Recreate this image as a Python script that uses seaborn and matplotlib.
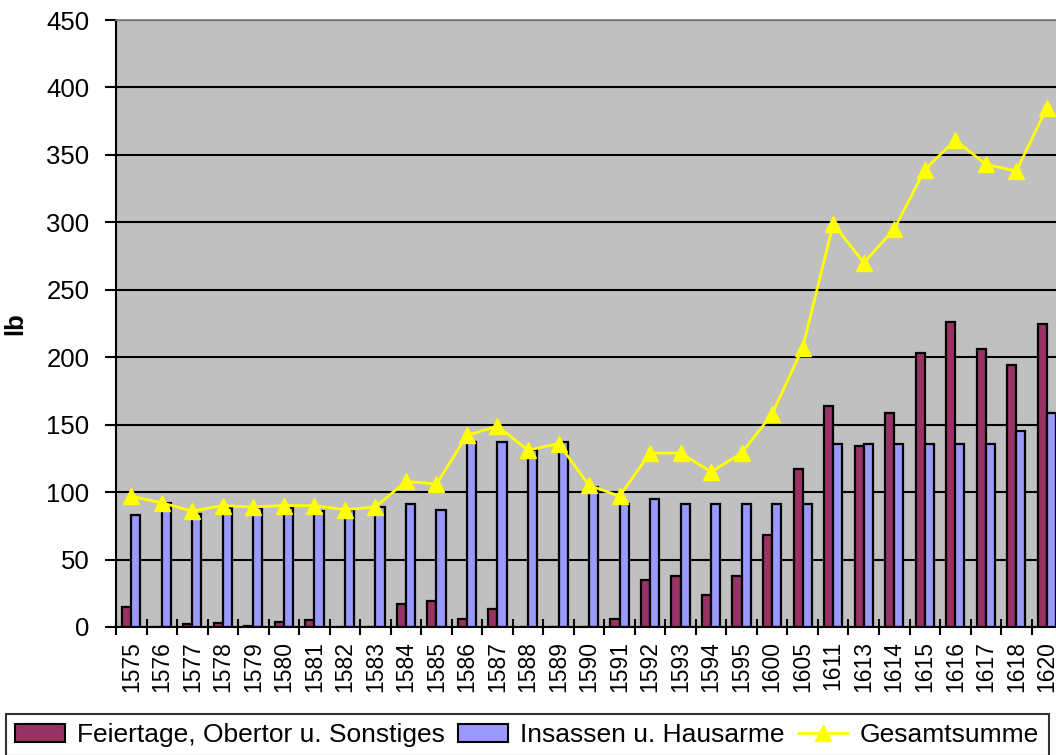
import matplotlib
matplotlib.use("Agg")
import matplotlib.pyplot as plt
import matplotlib.patches as mpatches
import matplotlib.lines as mlines
import numpy as np
import pandas as pd
import seaborn as sns

sns.set_theme(style="white")
plt.rcParams["font.family"] = ["Liberation Sans", "DejaVu Sans"]
plt.rcParams["text.color"] = "black"
plt.rcParams["axes.labelcolor"] = "black"
plt.rcParams["xtick.color"] = "black"
plt.rcParams["ytick.color"] = "black"

years = ["1575", "1576", "1577", "1578", "1579", "1580", "1581", "1582", "1583",
         "1584", "1585", "1586", "1587", "1588", "1589", "1590", "1591", "1592",
         "1593", "1594", "1595", "1600", "1605", "1611", "1613", "1614", "1615",
         "1616", "1617", "1618", "1620"]
feiertage = [15, 0, 2, 3, 1, 4, 5, 0, 0, 17, 19, 6, 13, 0, 0, 0, 6, 35, 38, 24,
             38, 68, 117, 164, 134, 159, 203, 226, 206, 194, 225]
insassen = [83, 92, 84, 88, 88, 88, 86, 87, 89, 91, 87, 137, 137, 131, 137, 104,
            91, 95, 91, 91, 91, 91, 91, 136, 136, 136, 136, 136, 136, 145, 159]
gesamt = [97, 92, 86, 90, 89, 90, 90, 87, 89, 108, 106, 142, 149, 131, 136, 105,
          97, 129, 129, 115, 129, 158, 207, 299, 270, 295, 339, 361, 343, 338, 385]

LBL_F = "Feiertage, Obertor u. Sonstiges"
LBL_I = "Insassen u. Hausarme"
LBL_G = "Gesamtsumme"
COLORS = {LBL_F: "#993366", LBL_I: "#9999FF"}
YELLOW = "#FFFF00"

df = pd.DataFrame({
    "Jahr": years * 2,
    "lb": feiertage + insassen,
    "Gruppe": [LBL_F] * len(years) + [LBL_I] * len(years),
})

fig = plt.figure(figsize=(10.56, 7.55), dpi=100)
ax = fig.add_axes([116 / 1056, 1 - 627 / 755, 1 - 116 / 1056, (627 - 20) / 755])
ax.set_facecolor("#C0C0C0")

sns.barplot(
    data=df, x="Jahr", y="lb", hue="Gruppe", order=years,
    hue_order=[LBL_F, LBL_I], palette=COLORS, width=0.6, gap=0,
    edgecolor="black", linewidth=1.6, saturation=1, legend=False, ax=ax,
)

ax.plot(np.arange(len(years)), gesamt, color=YELLOW, linewidth=2,
        marker="^", markersize=12, markeredgecolor=YELLOW, zorder=5)

ax.set_ylim(0, 450)
ax.set_yticks(np.arange(0, 451, 50))
ax.set_xlim(-0.5, 30.3)
ax.set_axisbelow(True)
ax.yaxis.grid(True, color="black", linewidth=1.5)
ax.xaxis.grid(False)

ax.set_xticks(np.arange(len(years)))
ax.set_xticklabels(years, rotation=90, fontsize=16.5)
ax.set_xticks(np.arange(len(years)) - 0.5, minor=True)
ax.tick_params(axis="x", which="major", length=0, pad=10)
ax.tick_params(axis="x", which="minor", direction="inout", length=12,
               width=1.5, color="black", bottom=True)
ax.tick_params(axis="y", direction="out", length=8, width=1.5,
               color="black", left=True, labelsize=18.5, pad=11)

ax.set_xlabel("")
ax.set_ylabel("lb", fontsize=18.5, fontweight="bold", labelpad=14)

for side in ["left", "bottom"]:
    ax.spines[side].set_color("black")
    ax.spines[side].set_linewidth(1.5)
ax.spines["top"].set_color("#808080")
ax.spines["right"].set_visible(False)

handles = [
    mpatches.Patch(facecolor=COLORS[LBL_F], edgecolor="black", linewidth=1.5, label=LBL_F),
    mpatches.Patch(facecolor=COLORS[LBL_I], edgecolor="black", linewidth=1.5, label=LBL_I),
    mlines.Line2D([], [], color=YELLOW, linewidth=2, marker="^", markersize=12,
                  markeredgecolor=YELLOW, label=LBL_G),
]
leg = fig.legend(
    handles=handles, loc="upper left", bbox_to_anchor=(6 / 1056, 1 - 714 / 755),
    ncol=3, fontsize=19, frameon=True, fancybox=False, borderpad=0.35,
    handlelength=1.9, handletextpad=0.45, columnspacing=0.5, borderaxespad=0,
)
leg.get_frame().set_edgecolor("black")
leg.get_frame().set_linewidth(1.5)

fig.savefig("out.png", dpi=100)
